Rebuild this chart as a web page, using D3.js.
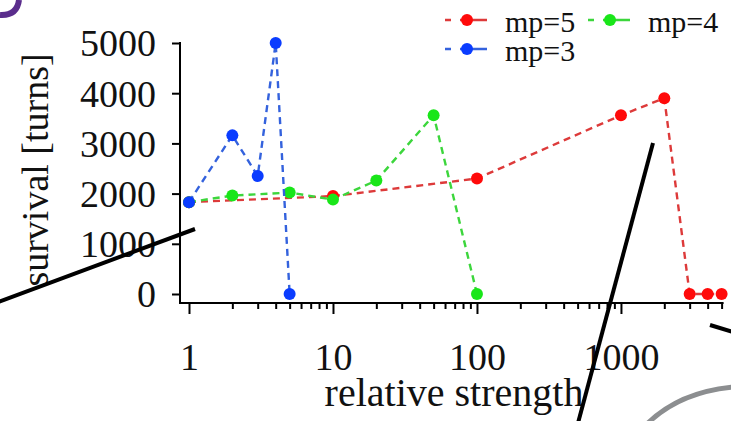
<!DOCTYPE html>
<html><head><meta charset="utf-8">
<script src="https://d3js.org/d3.v7.min.js"></script>
<style>html,body{margin:0;padding:0;background:#fff;overflow:hidden}</style>
</head><body>
<svg id="chart" width="731" height="421"></svg>
<script>
// ---- data ----
const seriesNames = ["mp=5", "mp=4", "mp=3"];
const xMp5 = [1, 10, 100, 1000, 2000, 3000, 4000, 5000];
const yMp5 = [1830, 1950, 2300, 3560, 3900, 0, 0, 0];
const xMp4 = [1, 2, 5, 10, 20, 50, 100];
const yMp4 = [1830, 1960, 2020, 1880, 2260, 3560, 0];
const xMp3 = [1, 2, 3, 4, 5];
const yMp3 = [1830, 3160, 2350, 5000, 0];
const yTicks = [0, 1000, 2000, 3000, 4000, 5000];
const xMajorTicks = [1, 10, 100, 1000];
const xMinorTicks = [2,3,4,5,6,7,8,9,20,30,40,50,60,70,80,90,200,300,400,500,600,700,800,900,2000,3000,4000,5000];
const xTitle = "relative strength";
const yTitle = "survival [turns]";

const colors = {"mp=5": "#ff0a0a", "mp=4": "#19e619", "mp=3": "#0a3cff"};
const lineColors = {"mp=5": "#dd3a3a", "mp=4": "#3cd63c", "mp=3": "#3462dd"};

const series = [
  {name: "mp=5", pts: xMp5.map((x, i) => ({x, y: yMp5[i]}))},
  {name: "mp=4", pts: xMp4.map((x, i) => ({x, y: yMp4[i]}))},
  {name: "mp=3", pts: xMp3.map((x, i) => ({x, y: yMp3[i]}))}
];

const svg = d3.select("#chart");
const font = "'Liberation Serif','Times New Roman',serif";

const x = d3.scaleLog().domain([1, 5000]).range([189, 721.6]);
const y = d3.scaleLinear().domain([0, 5000]).range([294, 43]);
const axisX = 180, axisY = 303;

// ---- y axis ----
const gy = svg.append("g").attr("transform", `translate(${axisX},0)`)
  .call(d3.axisLeft(y).tickValues(yTicks).tickSize(8).tickPadding(16).tickFormat(d3.format("d")));
gy.select(".domain").remove();
gy.selectAll(".tick line").attr("stroke", "#000").attr("stroke-width", 2);
gy.selectAll(".tick text").attr("font-family", font).attr("font-size", 38).attr("fill", "#111").attr("dy", "0.34em");
svg.append("line").attr("x1", axisX).attr("x2", axisX).attr("y1", y(5000) - 1).attr("y2", axisY + 1)
  .attr("stroke", "#000").attr("stroke-width", 2);

// ---- x axis ----
const gxMinor = svg.append("g").attr("transform", `translate(0,${axisY})`)
  .call(d3.axisBottom(x).tickValues(xMinorTicks).tickSize(6).tickFormat(""));
gxMinor.select(".domain").remove();
gxMinor.selectAll(".tick line").attr("stroke", "#000").attr("stroke-width", 2);
const gxMajor = svg.append("g").attr("transform", `translate(0,${axisY})`)
  .call(d3.axisBottom(x).tickValues(xMajorTicks).tickSize(11).tickFormat(d3.format("d")));
gxMajor.select(".domain").remove();
gxMajor.selectAll(".tick line").attr("stroke", "#000").attr("stroke-width", 2);
gxMajor.selectAll(".tick text").attr("font-family", font).attr("font-size", 38).attr("fill", "#111")
  .attr("y", 67).attr("dy", 0);
svg.append("line").attr("x1", axisX - 1).attr("x2", x(5000) + 2).attr("y1", axisY).attr("y2", axisY)
  .attr("stroke", "#000").attr("stroke-width", 2);

// ---- titles ----
svg.append("text").attr("x", 454).attr("y", 406).attr("text-anchor", "middle")
  .attr("font-family", font).attr("font-size", 40).attr("fill", "#111").text(xTitle);
svg.append("text").attr("transform", "translate(48,170) rotate(-90)").attr("text-anchor", "middle")
  .attr("font-family", font).attr("font-size", 38).attr("fill", "#111").text(yTitle);

// ---- series ----
const line = d3.line().x(d => x(d.x)).y(d => y(d.y));
series.forEach(s => {
  svg.append("path").datum(s.pts).attr("d", line).attr("fill", "none")
    .attr("stroke", lineColors[s.name]).attr("stroke-width", 2.4).attr("stroke-dasharray", "7,5");
  svg.selectAll(null).data(s.pts).enter().append("circle")
    .attr("cx", d => x(d.x)).attr("cy", d => y(d.y)).attr("r", 6).attr("fill", colors[s.name]);
});

// ---- legend ----
const legendPos = [{sx: 445, sy: 20}, {sx: 588, sy: 20}, {sx: 445, sy: 49}];
seriesNames.forEach((n, i) => {
  const p = legendPos[i];
  const g = svg.append("g").attr("transform", `translate(${p.sx},${p.sy})`);
  g.append("line").attr("x1", 0).attr("x2", 42).attr("y1", 0).attr("y2", 0)
    .attr("stroke", lineColors[n]).attr("stroke-width", 2.4).attr("stroke-dasharray", "6,9,27");
  g.append("circle").attr("cx", 22).attr("cy", 0).attr("r", 6).attr("fill", colors[n]);
  g.append("text").attr("x", 60).attr("y", 12).attr("font-family", font).attr("font-size", 30)
    .attr("fill", "#111").text(n);
});

// ---- slide annotations (overlay strokes) ----
const deco = svg.append("g").attr("fill", "none").attr("stroke-linecap", "butt");
deco.append("path").attr("d", "M0,15 Q17,16 19,0").attr("stroke", "#5a2d8c").attr("stroke-width", 6);
deco.append("line").attr("x1", -2).attr("y1", 302).attr("x2", 195).attr("y2", 229).attr("stroke", "#000").attr("stroke-width", 4);
deco.append("line").attr("x1", 653).attr("y1", 143).attr("x2", 578).attr("y2", 423).attr("stroke", "#000").attr("stroke-width", 4);
deco.append("line").attr("x1", 710).attr("y1", 325).attr("x2", 733).attr("y2", 332).attr("stroke", "#000").attr("stroke-width", 4);
deco.append("path").attr("d", "M648,423 Q680,392 733,387").attr("stroke", "#8c8e90").attr("stroke-width", 5);
</script>
</body></html>
